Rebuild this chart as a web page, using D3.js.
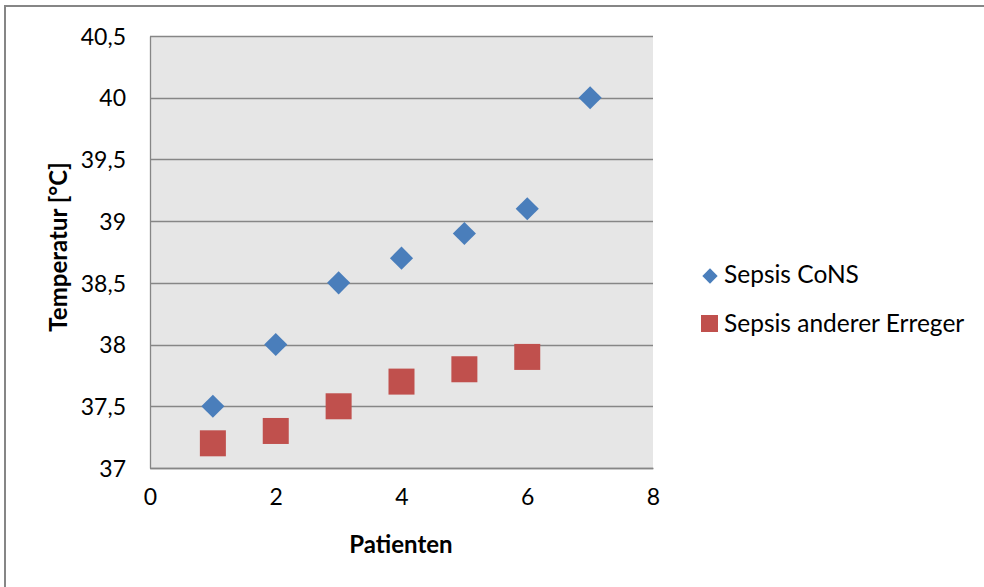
<!DOCTYPE html>
<html>
<head>
<meta charset="utf-8">
<script src="https://cdn.jsdelivr.net/npm/d3@7"></script>
<style>
  body { margin: 0; background: #fff; }
  text { font-family: Lato, "Open Sans", sans-serif; fill: #000; }
</style>
</head>
<body>
<script>
(function(){

  //chart data
  var seriesNames = ["Sepsis CoNS", "Sepsis anderer Erreger"];
  var consX = [1, 2, 3, 4, 5, 6, 7];
  var consY = [37.5, 38, 38.5, 38.7, 38.9, 39.1, 40];
  var otherX = [1, 2, 3, 4, 5, 6];
  var otherY = [37.2, 37.3, 37.5, 37.7, 37.8, 37.9];
  var xTicks = [0, 2, 4, 6, 8];
  var yTicks = [37, 37.5, 38, 38.5, 39, 39.5, 40, 40.5];

  var width = 984, height = 587;
  var plot = {left: 150, right: 653, top: 36, bottom: 468};

  var svg = d3.select("body").append("svg")
    .attr("width", width)
    .attr("height", height);

  //outer chart border
  svg.append("rect")
    .attr("x", 5).attr("y", 6)
    .attr("width", 1000).attr("height", 1000)
    .attr("fill", "#fff")
    .attr("stroke", "#868686")
    .attr("stroke-width", 2);

  var x = d3.scaleLinear().domain([0, 8]).range([plot.left, plot.right]);
  var y = d3.scaleLinear().domain([37, 40.5]).range([plot.bottom, plot.top]);

  //plot background
  svg.append("rect")
    .attr("x", plot.left).attr("y", plot.top)
    .attr("width", plot.right - plot.left)
    .attr("height", plot.bottom - plot.top)
    .attr("fill", "#e6e6e6");

  //horizontal gridlines
  svg.selectAll(".grid")
    .data(yTicks)
    .enter().append("line")
    .attr("x1", plot.left).attr("x2", plot.right)
    .attr("y1", function(d){ return Math.round(y(d)) + 0.5; })
    .attr("y2", function(d){ return Math.round(y(d)) + 0.5; })
    .attr("stroke", "#868686")
    .attr("stroke-width", 1.3);

  //axes
  var fmt = function(d){ return String(d).replace(".", ","); };

  var yAxis = svg.append("g")
    .attr("transform", "translate(" + plot.left + ",0)")
    .call(d3.axisLeft(y).tickValues(yTicks).tickFormat(fmt).tickSize(0).tickPadding(24));
  yAxis.select(".domain").attr("stroke", "#868686").attr("stroke-width", 1.3);
  yAxis.selectAll("text").style("font-size", "23px").attr("dy", "0.36em");

  var xAxis = svg.append("g")
    .attr("transform", "translate(0," + plot.bottom + ")")
    .call(d3.axisBottom(x).tickValues(xTicks).tickFormat(fmt).tickSize(0).tickPadding(21));
  xAxis.select(".domain").attr("stroke", "#868686").attr("stroke-width", 1.3);
  xAxis.selectAll("text").style("font-size", "23px");

  //axis titles
  svg.append("text")
    .attr("x", 401)
    .attr("y", 553)
    .attr("text-anchor", "middle")
    .style("font-size", "24px")
    .style("font-weight", "bold")
    .text("Patienten");

  svg.append("text")
    .attr("transform", "translate(67,247) rotate(-90)")
    .attr("text-anchor", "middle")
    .style("font-size", "24px")
    .style("font-weight", "bold")
    .text("Temperatur [°C]");

  //markers
  var diamond = d3.symbol().type(d3.symbolDiamond2).size(340);
  var blue = "#4a7ebb", red = "#c0504d";

  svg.selectAll(".cons")
    .data(consX)
    .enter().append("path")
    .attr("d", diamond)
    .attr("transform", function(d, i){ return "translate(" + x(d) + "," + y(consY[i]) + ")"; })
    .attr("fill", blue);

  svg.selectAll(".other")
    .data(otherX)
    .enter().append("rect")
    .attr("x", function(d){ return x(d) - 13; })
    .attr("y", function(d, i){ return y(otherY[i]) - 13; })
    .attr("width", 26).attr("height", 26)
    .attr("fill", red);

  //legend
  var legend = svg.append("g");
  legend.append("path")
    .attr("d", d3.symbol().type(d3.symbolDiamond2).size(150))
    .attr("transform", "translate(710,276)")
    .attr("fill", blue);
  legend.append("rect")
    .attr("x", 701).attr("y", 315)
    .attr("width", 17).attr("height", 17)
    .attr("fill", red);
  legend.selectAll(".leg")
    .data(seriesNames)
    .enter().append("text")
    .attr("x", 724)
    .attr("y", function(d, i){ return 283 + i * 49; })
    .style("font-size", "24.5px")
    .text(function(d){ return d; });

})();
</script>
</body>
</html>
